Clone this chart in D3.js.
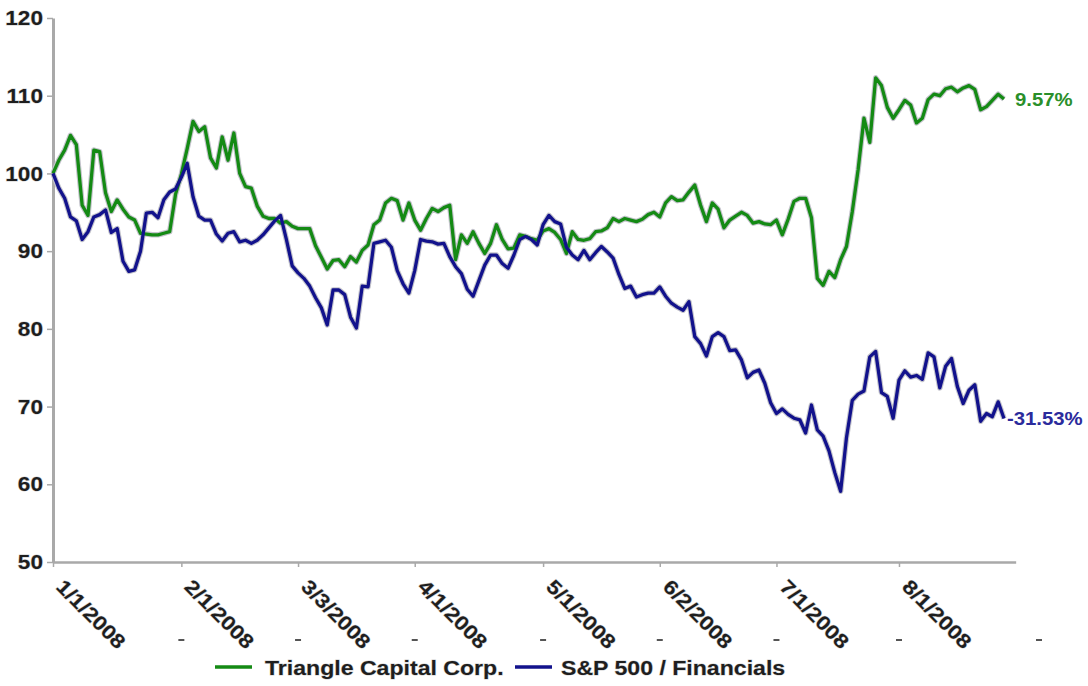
<!DOCTYPE html>
<html><head><meta charset="utf-8">
<script src="https://cdn.jsdelivr.net/npm/d3@7"></script>
<style>
html,body{margin:0;padding:0;background:#fff;}
svg{display:block;}
text{font-family:"Liberation Sans",Arial,sans-serif;font-weight:bold;}
</style></head><body>
<svg id="chart" width="1088" height="686"></svg>
<script>
// ---- data (trading-day index 0 = start of 2008) ----
const tickDates = ["1/1/2008","2/1/2008","3/3/2008","4/1/2008","5/1/2008","6/2/2008","7/1/2008","8/1/2008"];
const tickDays  = [0,22,42,62,84,104,124,145];
const markDays  = [22,42,62,84,104,124,145,169];
const yTicks    = [50,60,70,80,90,100,110,120];
const seriesNames = ["Triangle Capital Corp.","S&P 500 / Financials"];
const endLabels   = ["9.57%","-31.53%"];
const tcg = [
 100.0,101.7,103.0,104.9,103.7,95.9,94.6,103.0,102.8,97.5,
 95.1,96.6,95.4,94.4,94.0,92.3,92.2,92.1,92.1,92.3,
 92.5,97.3,99.9,103.2,106.7,105.4,106.0,102.0,100.7,104.7,
 101.7,105.2,100.0,98.3,98.1,95.8,94.5,
 94.2,94.2,93.6,93.8,93.2,92.9,92.9,92.9,90.7,89.2,
 87.7,88.8,88.9,88.0,89.3,88.6,90.1,90.8,93.4,94.0,
 96.2,96.8,96.5,94.0,96.2,94.0,92.7,94.2,95.5,95.1,
 95.6,95.9,88.9,92.1,91.0,92.5,91.0,89.7,91.0,93.4,
 91.5,90.3,90.4,92.1,91.9,91.6,91.4,92.6,92.9,92.4,
 91.5,89.7,92.5,91.5,91.4,91.6,92.5,92.6,93.0,94.2,
 93.8,94.2,94.0,93.8,94.1,94.7,95.0,94.4,96.2,97.0,
 96.5,96.6,97.6,98.5,95.9,
 93.8,96.2,95.4,93.0,94.0,94.5,95.0,94.6,93.6,93.8,
 93.5,93.4,94.0,92.1,94.1,96.4,96.8,96.8,94.3,86.5,
 85.6,87.4,86.6,88.9,90.6,95.1,100.5,107.1,104.0,112.3,
 111.3,108.5,107.1,108.2,109.4,108.8,106.5,107.1,109.5,110.2,
 110.0,110.9,111.1,110.5,111.0,111.3,110.8,108.2,108.6,109.4,
 110.2,109.57
];
const spf = [
 100.0,98.1,96.8,94.4,93.9,91.5,92.5,94.4,94.7,95.3,
 92.4,92.9,88.7,87.4,87.6,90.0,94.9,95.0,94.3,96.6,
 97.6,98.0,99.5,101.3,97.0,94.5,94.0,94.0,92.2,91.3,
 92.3,92.5,91.2,91.4,91.0,91.4,92.1,
 93.0,93.9,94.6,91.5,88.1,87.2,86.5,85.5,84.0,82.7,
 80.5,85.0,85.0,84.4,81.5,80.1,85.5,85.4,91.0,91.2,
 91.4,90.5,87.5,85.8,84.6,87.5,91.5,91.3,91.2,90.9,
 91.0,89.3,88.0,87.1,85.1,84.2,86.2,88.2,89.5,89.5,
 88.4,87.8,89.5,91.5,91.9,91.5,90.8,93.4,94.6,93.8,
 93.5,90.5,89.5,88.9,90.1,88.9,89.8,90.6,89.9,89.1,
 87.0,85.2,85.5,84.1,84.4,84.6,84.6,85.4,84.2,83.3,
 82.8,82.4,83.5,79.0,78.1,
 76.5,79.0,79.5,79.0,77.2,77.3,76.0,73.7,74.4,74.7,
 73.0,70.5,69.1,69.7,69.0,68.5,68.3,66.6,70.2,67.0,
 66.2,64.3,61.5,59.1,66.0,70.8,71.6,72.0,76.4,77.1,
 71.8,71.3,68.5,73.4,74.6,73.8,74.0,73.5,76.9,76.4,
 72.4,75.2,76.2,72.6,70.4,72.1,72.8,68.1,69.1,68.7,
 70.6,68.47
];
const colors = ["#148a14","#12128c"];
const labelColors = ["#2a8f2a","#2b2b9c"];

// ---- chart ----
const svg = d3.select("#chart");
const x = d3.scaleLinear().domain([0, tcg.length - 1]).range([53, 1004]);
const y = d3.scaleLinear().domain([50, 120]).range([562, 18]);
const SX = 1.13;

// y axis
const yAxis = d3.axisLeft(y).tickValues(yTicks).tickSize(6).tickSizeOuter(0).tickFormat(d => "");
const gy = svg.append("g").attr("transform", `translate(${x(0)},0)`).call(yAxis);
gy.select(".domain").attr("stroke", "#a9a9a9").attr("stroke-width", 3);
gy.selectAll(".tick line").attr("stroke", "#a9a9a9").attr("stroke-width", 1.5);
svg.append("g").selectAll("text").data(yTicks).join("text")
  .attr("transform", d => `translate(43,${y(d)}) scale(${SX},1)`)
  .attr("text-anchor", "end").attr("dy", "0.36em")
  .attr("font-size", 20).attr("fill", "#1e1e1e")
  .attr("stroke", "#d0d0d0").attr("stroke-width", 1).attr("paint-order", "stroke")
  .text(d => d);

// x axis
const xAxisScale = x.copy().domain([0, 165]).range([x(0), x(165)]);
const xAxis = d3.axisBottom(xAxisScale).tickValues(tickDays).tickSize(5).tickSizeOuter(0).tickFormat(d => "");
const gx = svg.append("g").attr("transform", `translate(0,${y(50)})`).call(xAxis);
gx.select(".domain").attr("stroke", "#a9a9a9").attr("stroke-width", 2.5);
gx.selectAll(".tick line").attr("stroke", "#a9a9a9").attr("stroke-width", 1.5);
svg.append("g").selectAll("text").data(tickDays).join("text")
  .attr("transform", (d) => `translate(${x(d) + 2},588) rotate(45) scale(${SX},1)`)
  .attr("text-anchor", "start")
  .attr("font-size", 20).attr("fill", "#1e1e1e")
  .attr("stroke", "#d0d0d0").attr("stroke-width", 1).attr("paint-order", "stroke")
  .text((d, i) => tickDates[i]);
svg.append("g").selectAll("line").data(markDays).join("line")
  .attr("x1", d => x(d) - 3).attr("x2", d => x(d) + 3)
  .attr("y1", 640).attr("y2", 640)
  .attr("stroke", "#555").attr("stroke-width", 2);

// lines
const line = d3.line().x((d, i) => x(i)).y(d => y(d));
[tcg, spf].forEach((s, k) => {
  svg.append("path").attr("d", line(s)).attr("fill", "none")
    .attr("stroke", "#c4c4cc").attr("stroke-width", 5.5).attr("stroke-linejoin", "round");
});
[tcg, spf].forEach((s, k) => {
  svg.append("path").attr("d", line(s)).attr("fill", "none")
    .attr("stroke", colors[k]).attr("stroke-width", 3.3).attr("stroke-linejoin", "round");
});

// end labels
const endDx = [11, 3];
[tcg, spf].forEach((s, k) => {
  svg.append("text")
    .attr("transform", `translate(${x(s.length - 1) + endDx[k]},${y(s[s.length - 1])}) scale(${SX},1)`)
    .attr("dy", "0.36em").attr("font-size", 18).attr("fill", labelColors[k])
    .text(endLabels[k]);
});

// legend
const legendX = [215, 515];
seriesNames.forEach((n, k) => {
  svg.append("line").attr("x1", legendX[k]).attr("x2", legendX[k] + 37)
    .attr("y1", 667).attr("y2", 667).attr("stroke", colors[k]).attr("stroke-width", 3.3);
  svg.append("text")
    .attr("transform", `translate(${legendX[k] + (k ? 46 : 50)},675) scale(1.1,1)`)
    .attr("font-size", 21).attr("fill", "#1e1e1e")
    .attr("stroke", "#d0d0d0").attr("stroke-width", 1).attr("paint-order", "stroke")
    .text(n);
});
</script>
</body></html>
